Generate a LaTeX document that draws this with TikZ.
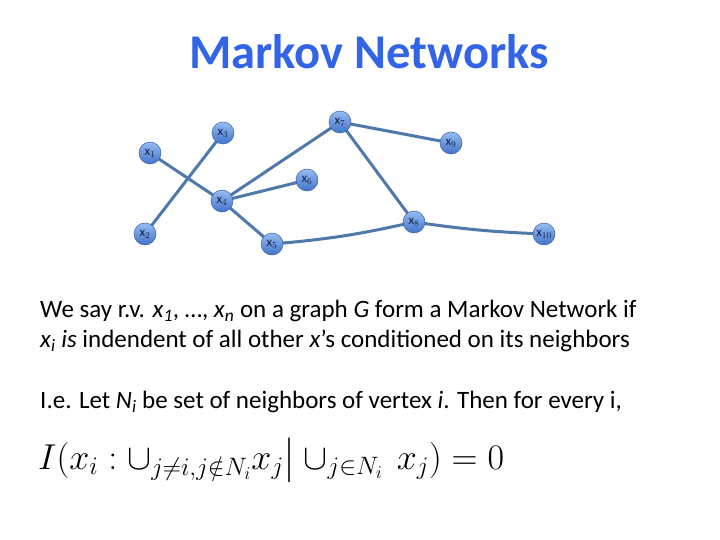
\RequirePackage{fix-cm}
\documentclass[tikz,border=0pt]{standalone}
\usepackage{amsmath,amssymb}
\usepackage{fontspec}
\setmainfont{Carlito}
\usetikzlibrary{positioning}
\definecolor{titleblue}{RGB}{50,100,232}
\definecolor{edgeblue}{RGB}{79,121,170}
\definecolor{nodetop}{RGB}{150,188,242}
\definecolor{nodebot}{RGB}{65,115,200}
\definecolor{nodeline}{RGB}{60,100,170}
\definecolor{labelnavy}{RGB}{20,30,70}
\tikzset{
  vtx/.style={circle, minimum size=22pt, inner sep=0pt, draw=nodeline, line width=0.5pt,
    top color=nodetop, bottom color=nodebot, text=labelnavy, font=\fontsize{13}{13}\selectfont},
  edge/.style={draw=edgeblue, line width=3pt},
  body/.style={anchor=west, inner sep=0pt, font=\fontsize{25}{29}\selectfont}
}
\begin{document}
\begin{tikzpicture}[x=1pt,y=-1pt]
\useasboundingbox[fill=white] (0,0) rectangle (720,540);
\node[font=\fontsize{48.5}{52}\selectfont\bfseries, text=titleblue] (title) at (369,52) {Markov Networks};
% edges first
\coordinate (p1) at (150,153);
\coordinate (p2) at (145,234);
\coordinate (p3) at (223,133);
\coordinate (p4) at (222,201);
\coordinate (p5) at (272,244);
\coordinate (p6) at (307,180);
\coordinate (p7) at (340,122);
\coordinate (p8) at (414,222);
\coordinate (p9) at (451,143);
\coordinate (p10) at (544,234);
\draw[edge] (p1) -- (p4);
\draw[edge] (p2) -- (p3);
\draw[edge] (p4) -- (p7);
\draw[edge] (p4) -- (p6);
\draw[edge] (p4) -- (p5);
\draw[edge] (p5) to[bend right=4] (p8);
\draw[edge] (p7) -- (p9);
\draw[edge] (p7) -- (p8);
\draw[edge] (p8) to[bend right=3] (p10);
% nodes
\node[vtx] (x1) at (p1) {x$_1$};
\node[vtx] (x2) at (p2) {x$_2$};
\node[vtx] (x3) at (p3) {x$_3$};
\node[vtx] (x4) at (p4) {x$_4$};
\node[vtx] (x5) at (p5) {x$_5$};
\node[vtx] (x6) at (p6) {x$_6$};
\node[vtx] (x7) at (p7) {x$_7$};
\node[vtx] (x8) at (p8) {x$_8$};
\node[vtx] (x9) at (p9) {x$_9$};
\node[vtx] (x10) at (p10) {x$_{10}$};
% text
\node[body] (l1) at (40,311) {We say r.v. \textit{x}$_{\mathit{1}}$, \dots, \textit{x}$_{\mathit{n}}$ on a graph \textit{G} form a Markov Network if};
\node[body] (l2) at (40,341) {\textit{x}$_{\mathit{i}}$ \textit{is} indendent of all other \textit{x}’s conditioned on its neighbors};
\node[body] (l3) at (40,402) {I.e. Let \textit{N}$_{\mathit{i}}$ be set of neighbors of vertex \textit{i}. Then for every i,};
\node[anchor=west, inner sep=0pt, font=\fontsize{36}{40}\selectfont] (eq) at (38,460)
  {$I(x_i : \cup_{j\neq i, j\notin N_i} x_j \big| \cup_{j\in N_i}\, x_j) = 0$};
\end{tikzpicture}
\end{document}
